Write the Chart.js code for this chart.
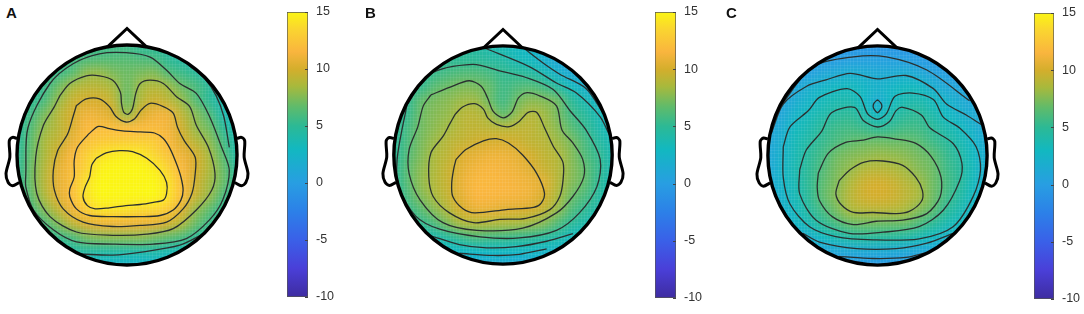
<!DOCTYPE html>
<html>
<head>
<meta charset="utf-8">
<style>
  html, body { margin: 0; padding: 0; background: #fff; width: 1084px; height: 314px; overflow: hidden; }
  canvas { position: absolute; }
  .tag { position: absolute; font: bold 15px "Liberation Sans", sans-serif; color: #111; line-height: 15px; }
</style>
<script src="https://cdn.jsdelivr.net/npm/chart.js@4/dist/chart.umd.min.js"></script>
</head>
<body>
<script>
// grid positions in percent of head radius
const gridX = [-100, -87.5, -75, -62.5, -50, -37.5, -25, -12.5, 0, 12.5, 25, 37.5, 50, 62.5, 75, 87.5, 100];
const gridY = [100, 87.5, 75, 62.5, 50, 37.5, 25, 12.5, 0, -12.5, -25, -37.5, -50, -62.5, -75, -87.5, -100];
const colorTicks = [15, 10, 5, 0, -5, -10];

const valuesA = [
  [5, 5, 5, 5, 5, 5, 5.5, 5.5, 5.5, 5, 5, 4.5, 4, 3.5, 3, 3, 3],
  [5, 5, 5, 5.2, 5.6, 6, 6.2, 6.3, 6.3, 6.1, 5.8, 5, 4.4, 3.8, 3, 3, 3],
  [5, 5, 5, 5.5, 6.4, 7.8, 8, 7.4, 7, 7.3, 7.5, 6.2, 5.5, 4.8, 3.5, 3, 3],
  [5, 5, 5.4, 7, 8.4, 9, 9, 8.4, 7, 8.3, 8.8, 8.2, 6.9, 6, 4.8, 3.5, 3],
  [5, 5, 6, 8, 9.5, 10, 10, 9.2, 7, 8.8, 9.7, 9.1, 8, 6.3, 5, 3.7, 3],
  [5, 5.7, 7.3, 8.9, 10, 11, 10.8, 10.1, 8, 10, 11, 11, 9.1, 7.6, 6.1, 4, 3],
  [4.5, 6.2, 8, 9, 10.2, 11.6, 12, 12, 11.8, 11.8, 11.8, 11.2, 9.8, 8, 7, 5, 3.5],
  [4.7, 6.6, 8.5, 9.4, 10.8, 12.2, 12.7, 12.9, 13, 13, 12.8, 11.7, 10.2, 9, 7.8, 5.8, 4],
  [5, 6.8, 8.6, 10, 11.7, 13, 14, 14.5, 14.6, 14.4, 13.5, 12.4, 11, 10, 8.4, 6.4, 4.3],
  [5, 7, 8.9, 10.6, 12, 13.3, 14.7, 15, 15, 15, 14.6, 13.3, 11.7, 10, 8.6, 6.9, 4.8],
  [5, 7, 9, 10.7, 12.2, 14, 15, 15, 15, 15, 15, 14, 12, 9.8, 8.3, 6.9, 4.8],
  [4.6, 6.6, 8.7, 10.5, 12, 14, 15, 15, 15, 15, 15, 14, 12, 9.5, 8, 6, 4.3],
  [4, 5.8, 7.6, 9.3, 11, 12.8, 14, 14, 13.9, 13.6, 13.5, 12.7, 10.3, 8, 6.6, 5, 3.5],
  [3.5, 4.5, 6, 7.6, 9.2, 10.3, 10.9, 11, 11, 10.9, 10.7, 9.8, 8.7, 6.9, 5.5, 4, 3],
  [3, 3.5, 4.5, 5.4, 6, 7.2, 7.6, 7.7, 7.7, 7.7, 7.2, 6.7, 6, 5, 4, 3.5, 3],
  [3, 3, 3.5, 4, 4.5, 4.6, 4.5, 4.5, 4.3, 4.2, 4.2, 3.8, 3.5, 3.2, 3, 3, 3],
  [2.5, 2.5, 2.5, 2.5, 2.5, 2.5, 2.5, 2.5, 2.5, 2.5, 2.5, 2.5, 2.5, 2.5, 2.5, 2.5, 2.5]
];
const valuesB = [
  [5, 5, 5, 5, 5, 5, 4.5, 4, 3.5, 3, 2.5, 1.8, 1, 1, 1, 1, 1],
  [5, 5, 5, 5, 5, 5, 4.9, 4.6, 4.3, 3.5, 3, 2, 1, .5, .5, .5, .5],
  [5, 5, 4.8, 5.4, 5.9, 6.2, 6.2, 5.8, 5.2, 5, 4.6, 3.6, 2.3, 1.3, .8, .5, .5],
  [4.5, 4.8, 5.3, 6.5, 7, 7.4, 7.3, 6.8, 5.6, 6.1, 6.3, 5.7, 4.5, 3.2, 2, 1, .5],
  [4.5, 5.1, 6.7, 7.3, 7.7, 8.2, 8.2, 7, 5.7, 7, 7.7, 7.5, 7, 5, 3.7, 2.4, 1.5],
  [4.5, 5.3, 7, 7.6, 8, 8.9, 9, 8.3, 6.7, 7.9, 8.8, 8.3, 7.2, 5.7, 4.7, 3.6, 2.3],
  [4.6, 5.8, 7.1, 7.8, 8.4, 9.1, 9.3, 9.1, 8.9, 9.1, 9.2, 8.5, 7.7, 6.4, 5.3, 4, 3],
  [4.7, 6, 7.3, 8.2, 9, 9.4, 9.8, 10.1, 10.1, 9.8, 9.3, 9, 8.2, 7.3, 5.9, 4.6, 3.5],
  [4.8, 6.2, 7.5, 8.6, 9.2, 10.3, 10.7, 11, 11, 10.7, 10, 9.3, 8.8, 7.6, 6.2, 5.2, 3.8],
  [4.8, 6.5, 7.8, 8.7, 9.6, 10.6, 11.2, 11.4, 11.3, 11, 10.5, 9.6, 8.9, 7.7, 6.7, 5.3, 3.8],
  [4.7, 6.4, 7.9, 8.8, 9.6, 10.9, 11.6, 11.6, 11.5, 11.3, 11, 10.5, 8.9, 7.6, 6.7, 5, 3.6],
  [4.3, 6, 7.5, 8.5, 9.5, 10.7, 11.5, 11.5, 11.4, 11.3, 11, 10, 8.6, 7, 6, 4.6, 3.4],
  [3.8, 5.3, 6.5, 7.7, 8.9, 10, 10.8, 10.8, 10.5, 10.3, 10, 9.3, 8, 6.2, 5.1, 4, 3],
  [3, 4.2, 5.2, 6.1, 7.5, 8.6, 8.8, 8.8, 8.6, 8.5, 8.2, 7.6, 6.2, 5, 4, 3, 2.5],
  [2.5, 3, 3.8, 4, 4.8, 5.6, 6.2, 5.9, 5.7, 5.4, 5.2, 4.8, 4.2, 3.3, 3, 2.5, 2],
  [2, 2, 2.5, 2.7, 3, 3, 3, 3, 3, 2.9, 2.9, 2.6, 2.5, 2.5, 2.3, 2, 2],
  [1.4, 1.4, 1.4, 1.4, 1.4, 1.4, 1.4, 1.4, 1.4, 1.4, 1.4, 1.4, 1.4, 1.4, 1.4, 1.4, 1.4]
];
const valuesC = [
  [-.8, -.8, -.8, -.8, -.8, -.8, -.8, -.8, -.8, -.8, -.8, -.8, -.8, -.8, -.8, -.8, -.8],
  [-.8, -.8, -.8, -.7, -.3, 0, .2, .3, .3, .3, .2, -.1, -.4, -.6, -.8, -.8, -.8],
  [-.8, -.8, -.4, .3, 1, 1.4, 1.8, 1.6, 1.3, 1.4, 1.7, 1.2, .6, .1, -.4, -.8, -.8],
  [-.5, -.3, .8, 1.8, 2.5, 2.9, 3.2, 2.7, 2.2, 2.6, 3.1, 3, 1.9, 1.1, .7, .1, -.5],
  [-.2, .3, 1.6, 2.5, 3.3, 3.8, 3.9, 3, 1.7, 3, 3.8, 3.9, 3.2, 2.3, 1.5, .8, 0],
  [.2, 1, 2.4, 3.3, 4, 4.6, 4.9, 4, 2.9, 4, 4.7, 5, 4, 3, 2.2, 1.4, .6],
  [.5, 1.6, 3.1, 3.8, 4.9, 5.5, 5.7, 5.4, 5, 5.3, 5.7, 5.6, 5, 3.9, 3.2, 2.1, 1],
  [.8, 2, 3.4, 4.4, 5.3, 6, 6.6, 6.9, 7, 6.9, 6.9, 6.5, 5.6, 4.8, 3.7, 2.6, 1.3],
  [1, 2.2, 3.6, 4.8, 5.8, 7, 7.5, 7.8, 8.1, 8, 7.7, 7.2, 6.7, 5.4, 4.4, 3, 1.5],
  [1.1, 2.4, 3.8, 5, 6.2, 7.3, 8, 8.8, 9, 8.8, 8.3, 7.6, 7, 5.7, 4.7, 3.3, 1.6],
  [1.1, 2.5, 3.7, 5.1, 6.5, 7.5, 8.7, 9.7, 10, 9.7, 9, 8.3, 7.1, 6, 4.8, 3.2, 1.5],
  [1, 2.3, 3.5, 5, 6.6, 7.7, 9, 9.8, 10, 9.8, 9.2, 8.5, 7.1, 5.7, 4.4, 2.9, 1.3],
  [.8, 1.9, 3.2, 4.5, 5.9, 7.2, 8.5, 8.9, 9, 8.9, 8.5, 7.5, 6.6, 5, 3.8, 2.4, 1],
  [.5, 1.4, 2.6, 3.6, 4.9, 5.9, 6.8, 7, 7, 6.9, 6.8, 6, 5, 3.8, 3, 1.7, .7],
  [0, .5, 1.2, 2, 3, 3.7, 4.3, 4.7, 4.6, 4.6, 4.2, 3.6, 3, 2.3, 1.6, .8, .2],
  [-.3, -.2, .2, .6, .9, 1.1, 1.2, 1.3, 1.3, 1.3, 1.1, 1, .9, .6, .2, 0, -.2],
  [-.4, -.4, -.4, -.4, -.4, -.4, -.4, -.4, -.4, -.4, -.4, -.4, -.4, -.4, -.4, -.4, -.4]
];

// contour lines, [x, y] in percent of head radius
const contoursA = [
  [[-28,-3],[-19,2],[-7,4],[5,3],[18,-3],[30,-14],[36,-25],[36,-35],[33,-41],[24,-43],[12,-45],[-1,-46],[-16,-48],[-29,-49],[-36,-46],[-40,-38],[-38,-29],[-34,-20],[-32,-9],[-28,-3]],
  [[-35,19],[-26,26],[-16,24],[-4,22],[12,21],[25,20],[33,15],[39,6],[45,-8],[49,-20],[51,-32],[49,-41],[42,-50],[30,-55],[12,-56],[-13,-56],[-34,-55],[-46,-49],[-52,-38],[-52,-31],[-48,-20],[-48,-5],[-45,7],[-35,19]],
  [[-46,45],[-37,51],[-25,51],[-16,44],[-10,35],[-1,30],[7,33],[13,41],[21,47],[33,44],[42,38],[46,25],[52,13],[62,-2],[62,-17],[59,-35],[51,-49],[36,-61],[12,-64],[-13,-65],[-40,-61],[-58,-49],[-66,-32],[-67,-14],[-63,4],[-54,19],[-49,35],[-46,45]],
  [[-61,54],[-52,65],[-37,72],[-25,72],[-13,68],[-6,57],[-5,47],[-3,39],[1,37],[5,42],[8,56],[12,65],[21,68],[33,65],[45,53],[57,44],[63,27],[74,7],[80,-17],[77,-32],[63,-50],[42,-67],[18,-72],[-13,-73],[-46,-70],[-70,-56],[-82,-35],[-83,-2],[-76,27],[-66,44],[-61,54]],
  [[-92,-17],[-90,25],[-70,65],[-49,83],[-25,92],[-1,93],[21,89],[36,77],[48,65],[63,56],[75,35],[86,7],[93,-14],[87,-41],[75,-59],[54,-76],[24,-81],[-13,-81],[-46,-79],[-67,-68],[-85,-50],[-92,-29],[-92,-17]],
  [[-42,-90],[-13,-91],[15,-88],[48,-82],[69,-72]],
  [[57,81],[71,69],[81,54],[88,35],[93,7]]
];
const contoursB = [
  [[-43,-4],[-34,5],[-18,13],[-6,15],[5,11],[18,0],[31,-17],[38,-35],[35,-44],[28,-48],[3,-50],[-26,-53],[-37,-49],[-46,-38],[-47,-26],[-45,-12],[-43,-4]],
  [[-44,37],[-37,44],[-26,47],[-18,42],[-14,34],[-6,28],[6,26],[15,31],[23,39],[31,39],[38,25],[46,8],[55,-7],[55,-23],[52,-38],[43,-50],[21,-58],[-3,-59],[-27,-62],[-49,-53],[-64,-38],[-68,-20],[-66,2],[-55,17],[-49,28],[-44,37]],
  [[-66,55],[-49,62],[-31,68],[-20,63],[-14,52],[-9,40],[0,34],[8,39],[14,52],[21,57],[34,54],[49,45],[54,23],[64,11],[73,-4],[74,-20],[64,-38],[49,-53],[18,-67],[-24,-69],[-55,-62],[-76,-41],[-86,-17],[-86,5],[-78,26],[-73,45],[-66,55]],
  [[-88,46],[-67,74],[-28,83],[-3,77],[21,71],[46,60],[61,41],[76,23],[89,-4],[86,-29],[70,-53],[49,-69],[15,-76],[-21,-75],[-58,-68],[-80,-56],[-95,-30],[-97,-4],[-88,46]],
  [[-17,98],[24,81],[49,66],[67,57],[89,35],[98,17]],
  [[20,97],[37,84],[52,74],[76,61],[92,38]],
  [[-66,-74],[-40,-82],[-15,-85],[12,-84],[40,-79],[64,-72]],
  [[-40,-90],[-9,-92],[15,-91],[40,-86]]
];
const contoursC = [
  [[-35,-23],[-25,-13],[-12,-6],[5,-5],[23,-9],[35,-20],[41,-32],[40,-42],[29,-51],[17,-53],[-4,-52],[-22,-52],[-33,-45],[-38,-35],[-35,-23]],
  [[-54,-16],[-45,2],[-29,12],[-13,14],[0,17],[17,15],[35,11],[49,-1],[58,-20],[57,-38],[45,-53],[23,-59],[-1,-60],[-22,-63],[-41,-56],[-53,-41],[-55,-29],[-54,-16]],
  [[-71,-13],[-65,5],[-51,22],[-42,39],[-21,44],[-13,32],[0,26],[11,31],[17,41],[23,44],[40,37],[48,25],[69,11],[77,-7],[75,-23],[60,-50],[38,-65],[5,-70],[-26,-71],[-56,-59],[-71,-35],[-71,-13]],
  [[-86,8],[-80,26],[-63,41],[-53,53],[-28,61],[-16,54],[-9,38],[0,33],[8,38],[16,54],[32,57],[51,51],[60,35],[75,25],[90,8],[94,-13],[87,-38],[69,-65],[38,-76],[-4,-77],[-38,-74],[-62,-65],[-80,-44],[-86,-20],[-86,8]],
  [[-97,20],[-86,47],[-65,63],[-47,69],[-25,75],[0,70],[26,73],[51,61],[63,47],[81,37],[95,28]],
  [[-88,46],[-59,81],[-22,90],[8,90],[45,78],[84,50]],
  [[-68,-71],[-53,-79],[-19,-85],[17,-85],[45,-80],[69,-71]],
  [[-35,-92],[-4,-94],[26,-93],[43,-89]],
  [[0,51],[3,48],[4,45],[3,42],[0,39],[-3,42],[-4,45],[-3,48],[0,51]]
];

// head outline pieces
const noseLine = [[-18,98],[0,115],[18,98]];
const earLeft = [[-100,15],[-104,16],[-107,13],[-106.5,-2],[-110,-17],[-108,-25],[-104,-28],[-98,-25]];
const earRight = [[100,15],[104,16],[107,13],[106.5,-2],[110,-17],[108,-25],[104,-28],[98,-25]];

// colour bar stops, value to colour
const colorStops = [
  [-10, [62, 44, 160]], [-7.5, [74, 63, 216]], [-5, [58, 96, 232]], [-2.5, [44, 128, 232]],
  [0, [40, 158, 226]], [3, [18, 184, 192]], [5, [44, 185, 149]], [6.7, [95, 187, 107]],
  [8.5, [168, 185, 60]], [10, [212, 174, 44]], [11.5, [249, 181, 62]], [13.5, [250, 213, 48]], [15, [251, 245, 20]]
];

function colorFor(v) {
  if (v <= colorStops[0][0]) return colorStops[0][1];
  for (let i = 1; i < colorStops.length; i++) {
    const [v1, c1] = colorStops[i];
    if (v <= v1) {
      const [v0, c0] = colorStops[i - 1];
      const t = (v - v0) / (v1 - v0);
      return c0.map((c, k) => Math.round(c + (c1[k] - c) * t));
    }
  }
  return colorStops[colorStops.length - 1][1];
}

const headPlugin = {
  id: 'headPlugin',
  beforeDatasetsDraw(chart) {
    const { ctx, scales: { x, y } } = chart;
    const cells = chart.data.datasets[0].data;
    const nx = gridX.length, ny = gridY.length;

    // cells go to a tiny image first so the browser can smooth them when it scales up
    const off = document.createElement('canvas');
    off.width = nx;
    off.height = ny;
    const octx = off.getContext('2d');
    const img = octx.createImageData(nx, ny);
    cells.forEach((c, i) => {
      const rgb = colorFor(c.v);
      img.data.set([rgb[0], rgb[1], rgb[2], 255], i * 4);
    });
    octx.putImageData(img, 0, 0);

    const cx = x.getPixelForValue(0), cy = y.getPixelForValue(0);
    const r = x.getPixelForValue(100) - cx;
    const halfCell = (gridX[1] - gridX[0]) / 2;
    const left = x.getPixelForValue(gridX[0] - halfCell);
    const right = x.getPixelForValue(gridX[nx - 1] + halfCell);
    const top = y.getPixelForValue(gridY[0] + halfCell);
    const bottom = y.getPixelForValue(gridY[ny - 1] - halfCell);

    ctx.save();
    ctx.beginPath();
    ctx.arc(cx, cy, r, 0, Math.PI * 2);
    ctx.clip();
    ctx.imageSmoothingEnabled = true;
    ctx.imageSmoothingQuality = 'high';
    ctx.drawImage(off, left, top, right - left, bottom - top);

    // faint interpolation mesh
    ctx.strokeStyle = 'rgba(255,255,255,0.07)';
    ctx.lineWidth = 1;
    ctx.beginPath();
    for (let u = -100; u <= 100; u += 3) {
      const px = Math.round(x.getPixelForValue(u)) + 0.5;
      const py = Math.round(y.getPixelForValue(u)) + 0.5;
      ctx.moveTo(px, cy - r);
      ctx.lineTo(px, cy + r);
      ctx.moveTo(cx - r, py);
      ctx.lineTo(cx + r, py);
    }
    ctx.stroke();
    ctx.restore();
  },
  afterDatasetsDraw(chart) {
    const { ctx, scales: { x, y } } = chart;
    const cx = x.getPixelForValue(0), cy = y.getPixelForValue(0);
    ctx.save();
    ctx.strokeStyle = '#000';
    ctx.lineWidth = 3.4;
    ctx.beginPath();
    ctx.arc(cx, cy, x.getPixelForValue(100) - cx, 0, Math.PI * 2);
    ctx.stroke();
    ctx.restore();
  }
};

function toPoints(line) {
  return line.map(p => ({ x: p[0], y: p[1] }));
}

function drawHead(id, values, contours, centerX, centerY, radius) {
  const span = 120;
  const size = Math.round(radius * span * 2 / 100);
  const canvas = document.createElement('canvas');
  canvas.id = id;
  canvas.width = size;
  canvas.height = size;
  canvas.style.left = (centerX - size / 2) + 'px';
  canvas.style.top = (centerY - size / 2) + 'px';
  document.body.appendChild(canvas);

  const cells = [];
  gridY.forEach((yv, r) => gridX.forEach((xv, c) => cells.push({ x: xv, y: yv, v: values[r][c] })));

  const datasets = [{ label: 'cells', data: cells, pointRadius: 0, showLine: false }];
  contours.forEach(line => datasets.push({
    data: toPoints(line), showLine: true, tension: 0.3, pointRadius: 0,
    borderColor: '#2a3030', borderWidth: 1.3
  }));
  [noseLine, earLeft, earRight].forEach(line => datasets.push({
    data: toPoints(line), showLine: true, tension: line === noseLine ? 0 : 0.3, pointRadius: 0,
    borderColor: '#000', borderWidth: 3
  }));

  new Chart(canvas.getContext('2d'), {
    type: 'scatter',
    data: { datasets },
    options: {
      responsive: false,
      animation: false,
      layout: { padding: 0 },
      plugins: { legend: { display: false }, tooltip: { enabled: false } },
      scales: {
        x: { type: 'linear', display: false, min: -span, max: span },
        y: { type: 'linear', display: false, min: -span, max: span }
      }
    },
    plugins: [headPlugin]
  });
}

const barTicksPlugin = {
  id: 'barTicksPlugin',
  afterDatasetsDraw(chart) {
    const { ctx, chartArea, scales: { y } } = chart;
    ctx.save();
    ctx.strokeStyle = '#444';
    ctx.lineWidth = 1;
    ctx.beginPath();
    y.ticks.forEach(t => {
      const py = Math.round(y.getPixelForValue(t.value)) + 0.5;
      ctx.moveTo(chartArea.right, py);
      ctx.lineTo(chartArea.right - 3, py);
    });
    ctx.stroke();
    ctx.restore();
  }
};

function drawColorBar(id, left, top, width, height) {
  const labelRoom = 30, pad = 10;
  const canvas = document.createElement('canvas');
  canvas.id = id;
  canvas.width = width + labelRoom;
  canvas.height = height + pad * 2;
  canvas.style.left = left + 'px';
  canvas.style.top = (top - pad) + 'px';
  document.body.appendChild(canvas);

  new Chart(canvas.getContext('2d'), {
    type: 'bar',
    data: {
      labels: [''],
      datasets: [{
        data: [[colorTicks[colorTicks.length - 1], colorTicks[0]]],
        barPercentage: 1,
        categoryPercentage: 1,
        borderColor: '#555',
        borderWidth: 1,
        borderSkipped: false,
        backgroundColor(c) {
          const area = c.chart.chartArea;
          if (!area) return '#888';
          const g = c.chart.ctx.createLinearGradient(0, area.bottom, 0, area.top);
          colorStops.forEach(s => g.addColorStop((s[0] + 10) / 25, 'rgb(' + s[1].join(',') + ')'));
          return g;
        }
      }]
    },
    options: {
      responsive: false,
      animation: false,
      layout: { padding: { top: pad, bottom: pad, left: 0, right: 0 } },
      plugins: { legend: { display: false }, tooltip: { enabled: false } },
      scales: {
        x: { display: false },
        y: {
          position: 'right',
          min: -10,
          max: 15,
          afterFit(s) { s.width = labelRoom; },
          afterBuildTicks(s) { s.ticks = colorTicks.map(v => ({ value: v })); },
          border: { display: false },
          grid: { display: false },
          ticks: {
            padding: 0,
            color: '#333',
            font: { family: '"Liberation Sans", Arial, sans-serif', size: 12.5 }
          }
        }
      }
    },
    plugins: [barTicksPlugin]
  });
}

function addTag(text, left, top) {
  const d = document.createElement('div');
  d.className = 'tag';
  d.textContent = text;
  d.style.left = left + 'px';
  d.style.top = top + 'px';
  document.body.appendChild(d);
}

drawHead('headA', valuesA, contoursA, 127.3, 154.7, 110);
drawHead('headB', valuesB, contoursB, 503, 155, 109);
drawHead('headC', valuesC, contoursC, 877.7, 155, 109.5);

drawColorBar('barA', 287, 12, 21, 285);
drawColorBar('barB', 655, 12, 21, 286);
drawColorBar('barC', 1034, 13, 20, 286);

addTag('A', 6, 5);
addTag('B', 365, 5);
addTag('C', 726, 5);
</script>
</body>
</html>
